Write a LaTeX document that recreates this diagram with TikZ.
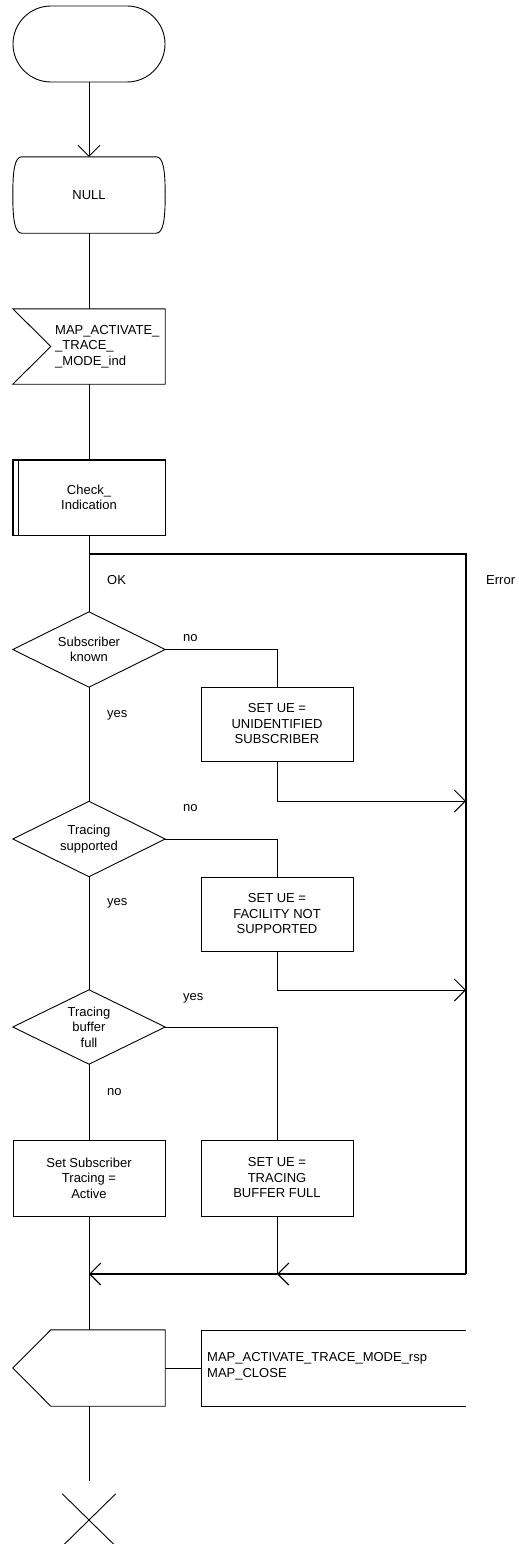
\documentclass[tikz,border=0pt]{standalone}
\usepackage{fontspec}
\setmainfont{Liberation Sans}
\usetikzlibrary{arrows.meta,shapes.misc,calc}
\begin{document}
\begin{tikzpicture}[x=1pt,y=-1pt,
  every node/.style={font=\fontsize{13}{15.5}\selectfont, inner sep=0pt},
  ln/.style={line width=0.9pt, draw=black},
  arr/.style={ln, -{Straight Barb[length=11pt,width=22pt]}},
  sym/.style={minimum width=152pt, minimum height=76pt, align=center, draw=none},
  lbl/.style={anchor=west},
]
\useasboundingbox (0,0) rectangle (519,1544);

% start terminal
\node[sym, rounded rectangle, ln] (start) at (89,44) {};

% state NULL
\node[sym] (null) at (89,195) {NULL};
\draw[ln] ($(null.north west)+(9,0)$) -- ($(null.north east)+(-9,0)$)
  .. controls ($(null.north east)+(-2,0)$) and ($(null.north east)+(0,13)$) .. (null.east)
  .. controls ($(null.south east)+(0,-13)$) and ($(null.south east)+(-2,0)$) .. ($(null.south east)+(-9,0)$)
  -- ($(null.south west)+(9,0)$)
  .. controls ($(null.south west)+(2,0)$) and ($(null.south west)+(0,-13)$) .. (null.west)
  .. controls ($(null.north west)+(0,13)$) and ($(null.north west)+(2,0)$) .. cycle;

% input
\node[sym, minimum height=75pt] (in) at (89,346.5) {};
\draw[ln] (in.north west) -- (in.north east) -- (in.south east) -- (in.south west) -- ($(in.west)+(38,0)$) -- cycle;
\node[anchor=west, align=left] (intext) at (55,346.5) {MAP\_ACTIVATE\_\\\_TRACE\_\\\_MODE\_ind};

% procedure
\node[sym, minimum height=75pt] (proc) at (89,497.5) {Check\_\\Indication};
\draw[line width=1.4pt] (proc.north west) rectangle (proc.south east);
\draw[ln] ($(proc.north west)+(6,0)$) -- ($(proc.south west)+(6,0)$);

% decisions
\node[sym, minimum height=75pt] (d1) at (89,649.5) {Subscriber\\known};
\draw[ln] (d1.north) -- (d1.east) -- (d1.south) -- (d1.west) -- cycle;
\node[sym, minimum height=75pt] (d2) at (89,839) {Tracing\\supported};
\draw[ln] (d2.north) -- (d2.east) -- (d2.south) -- (d2.west) -- cycle;
\node[sym, minimum height=74pt] (d3) at (89,1027) {Tracing\\buffer\\full};
\draw[ln] (d3.north) -- (d3.east) -- (d3.south) -- (d3.west) -- cycle;

% tasks
\node[sym, ln, minimum height=74pt] (b1) at (277,724) {SET UE =\\UNIDENTIFIED\\SUBSCRIBER};
\node[sym, ln, minimum height=74pt] (b2) at (277,914) {SET UE =\\FACILITY NOT\\SUPPORTED};
\node[sym, ln] (b3) at (277,1178) {SET UE =\\TRACING\\BUFFER FULL};
\node[sym, ln] (b4) at (89,1178) {Set Subscriber\\Tracing =\\Active};

% output
\node[sym] (out) at (89,1368) {};
\draw[ln] ($(out.north west)+(38,0)$) -- (out.north east) -- (out.south east) -- ($(out.south west)+(38,0)$) -- (out.west) -- cycle;

% comment
\coordinate (cm) at (201,1368);
\draw[ln] (466,1330) -- (201,1330) -- (201,1406) -- (466,1406);
\node[anchor=west, align=left] (cmt) at (207,1366) {MAP\_ACTIVATE\_TRACE\_MODE\_rsp\\MAP\_CLOSE};

% stop
\node[minimum width=53pt, minimum height=52pt] (stop) at (89,1520) {};
\draw[ln] (stop.north west) -- (stop.south east) (stop.south west) -- (stop.north east);
\coordinate (stopin) at (89,1481);

% coordinates
\coordinate (j1) at (89,554);
\coordinate (m0) at (466,1274);
\coordinate (m1) at (277,1274);
\coordinate (m2) at (89,1274);
\coordinate (a1) at (466,801);
\coordinate (a2) at (466,990);

% connectors
\draw[arr] (start.south) -- (null.north);
\draw[ln] (null.south) -- (in.north);
\draw[ln] (in.south) -- (proc.north);
\draw[ln] (proc.south) -- (d1.north);
\draw[line width=1.2pt] (j1) -| (m0);
\draw[ln] (d1.south) -- (d2.north);
\draw[ln] (d2.south) -- (d3.north);
\draw[ln] (d3.south) -- (b4.north);
\draw[ln] (d1.east) -| (b1.north);
\draw[ln] (d2.east) -| (b2.north);
\draw[ln] (d3.east) -| (b3.north);
\draw[arr] (b1.south) |- (a1);
\draw[arr] (b2.south) |- (a2);
\draw[ln] (b3.south) -- (m1);
\draw[arr, line width=1.2pt] (m0) -- (m1);
\draw[arr, line width=1.2pt] (m1) -- (m2);
\draw[ln] (b4.south) -- (out.north);
\draw[ln] (out.east) -- (cm);
\draw[ln] (out.south) -- (stopin);

% labels
\node[lbl] (lok) at (107,580) {OK};
\node[lbl] (lerr) at (486,580) {Error};
\node[lbl] (lno1) at (183,638) {no};
\node[lbl] (lyes1) at (107,715) {yes};
\node[lbl] (lno2) at (183,808) {no};
\node[lbl] (lyes2) at (107,903) {yes};
\node[lbl] (lyes3) at (183,998) {yes};
\node[lbl] (lno3) at (107,1092) {no};
\end{tikzpicture}
\end{document}
